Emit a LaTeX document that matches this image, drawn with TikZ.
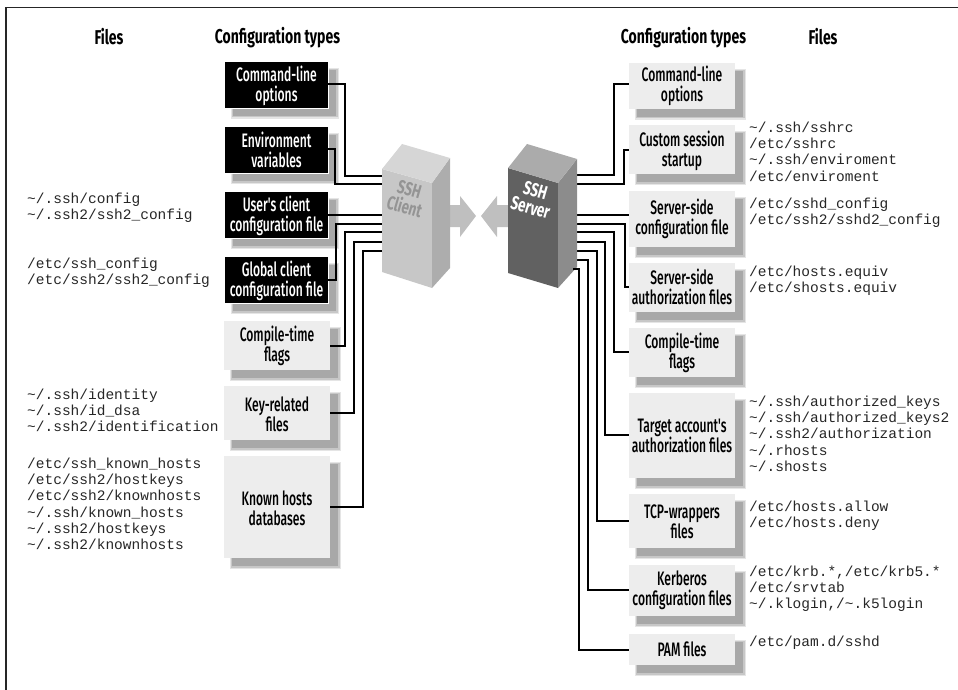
\documentclass[tikz,border=0pt]{standalone}
\usepackage{fontspec}
\setmainfont{Liberation Sans}
\newfontfamily\condfont[FakeStretch=0.62,UprightFont={* Medium}]{Fira Sans}
\newfontfamily\headfont[FakeStretch=0.7]{Fira Sans}
\setmonofont{Liberation Mono}
\definecolor{boxgray}{gray}{0.93}
\definecolor{shadowdark}{gray}{0.66}
\definecolor{shadowmid}{gray}{0.78}
\definecolor{shadowlight}{gray}{0.90}
\definecolor{arrowgray}{gray}{0.75}
\tikzset{
  x=1pt,y=-1pt,
  conn/.style={line width=2.2pt,black,line join=miter},
  lab/.style={font=\condfont\fontsize{19.5}{20}\selectfont,align=center,inner sep=0pt},
  filesnode/.style={font=\ttfamily\fontsize{14.5}{16.1}\selectfont,text=black!85,align=left,anchor=north west,inner sep=0pt},
  head/.style={font=\headfont\bfseries\fontsize{20}{20}\selectfont,inner sep=0pt},
  bk/.style={fill=black},
  gy/.style={fill=boxgray},
}
\newcommand{\shad}[4]{%
  \fill[shadowlight] (#1+6,#2+6) rectangle (#3+11,#4+11);
  \fill[shadowmid] (#1+7,#2+7) rectangle (#3+9.5,#4+9.5);
  \fill[shadowdark] (#1+8,#2+8) rectangle (#3+8,#4+8);}
\begin{document}
\begin{tikzpicture}
\useasboundingbox (0,0) rectangle (958,690);
\draw[line width=1.2pt,black!85] (6,690) -- (6,7.5) -- (958,7.5);
% shadows
\foreach \a/\b/\c/\d in {225/62/328/108,225/127/328/173,225/192/328/238,225/257/328/303,224/321/330/370,224/386/330/440,224/456/330/558,
 629/63/735/109,629/125/735/174,629/191/735/247,629/263/735/312,629/328/735/377,629/393/735/478,629/494/735/548,629/565/735/616,629/634/735/665}
 {\shad{\a}{\b}{\c}{\d}}
% white halo of the black boxes
\foreach \a/\b/\c/\d in {225/62/328/108,225/127/328/173,225/192/328/238,225/257/328/303}
 {\fill[white] (\a-1,\b-1) rectangle (\c+1,\d+1);}
% boxes
\fill[bk] (225,62) rectangle (328,108); \node[lab,white] (lc) at (276.5,85.5) {Command-line\\options};
\fill[bk] (225,127) rectangle (328,173); \node[lab,white] (le) at (276.5,150) {Environment\\variables};
\fill[bk] (225,192) rectangle (328,238); \node[lab,white] (lu) at (276.5,216) {User's client\\configuration file};
\fill[bk] (225,257) rectangle (328,303); \node[lab,white] (lg) at (276.5,281) {Global client\\configuration file};
\fill[gy] (224,321) rectangle (330,370); \node[lab] (lf) at (277,346) {Compile-time\\flags};
\fill[gy] (224,386) rectangle (330,440); \node[lab] (lk) at (277,414) {Key-related\\files};
\fill[gy] (224,456) rectangle (330,558); \node[lab] (lh) at (277,508) {Known hosts\\databases};
\fill[gy] (629,63) rectangle (735,109); \node[lab] (rc) at (682,85.5) {Command-line\\options};
\fill[gy] (629,125) rectangle (735,174); \node[lab] (rs) at (682,151) {Custom session\\startup};
\fill[gy] (629,191) rectangle (735,247); \node[lab] (rv) at (682,218.5) {Server-side\\configuration file};
\fill[gy] (629,263) rectangle (735,312); \node[lab] (ra) at (682,286.5) {Server-side\\authorization files};
\fill[gy] (629,328) rectangle (735,377); \node[lab] (rf) at (682,353) {Compile-time\\flags};
\fill[gy] (629,393) rectangle (735,478); \node[lab] (rt) at (682,436) {Target account's\\authorization files};
\fill[gy] (629,494) rectangle (735,548); \node[lab] (rw) at (682,522) {TCP-wrappers\\files};
\fill[gy] (629,565) rectangle (735,616); \node[lab] (rk) at (682,590.5) {Kerberos\\configuration files};
\fill[gy] (629,634) rectangle (735,665); \node[lab] (rp) at (682,649.5) {PAM files};
% connectors
\draw[conn] (328,84) -- (345,84) -- (345,176) -- (382,176);
\draw[conn] (328,149) -- (335,149) -- (335,184) -- (382,184);
\draw[conn] (328,215) -- (382,215);
\draw[conn] (328,280) -- (336,280) -- (336,224) -- (382,224);
\draw[conn] (330,346) -- (345,346) -- (345,232) -- (382,232);
\draw[conn] (330,413) -- (354,413) -- (354,242) -- (382,242);
\draw[conn] (330,507) -- (363,507) -- (363,251) -- (382,251);
\draw[conn] (577,175) -- (614,175) -- (614,84) -- (629,84);
\draw[conn] (577,184) -- (624,184) -- (624,150) -- (629,150);
\draw[conn] (577,215) -- (629,215);
\draw[conn] (577,224) -- (625,224) -- (625,287) -- (629,287);
\draw[conn] (577,232) -- (614,232) -- (614,352) -- (629,352);
\draw[conn] (577,242) -- (605,242) -- (605,435) -- (629,435);
\draw[conn] (577,251) -- (597,251) -- (597,521) -- (629,521);
\draw[conn] (577,260) -- (588,260) -- (588,590) -- (629,590);
% arrows
\fill[arrowgray] (448,205) -- (460,205) -- (460,196) -- (476,216) -- (460,237) -- (460,227) -- (448,227) -- cycle;
\fill[arrowgray] (510,205) -- (497,205) -- (497,196) -- (481,216) -- (497,237) -- (497,227) -- (510,227) -- cycle;
% client
\fill[black!22] (382,169) -- (432,183) -- (432,288) -- (382,272) -- cycle;
\fill[black!32] (432,183) -- (450,158) -- (450,268) -- (432,288) -- cycle;
\fill[black!16] (382,169) -- (402,144) -- (450,158) -- (432,183) -- cycle;
\node[font=\headfont\bfseries\fontsize{19}{18}\selectfont,text=black!42,align=center,inner sep=0pt,rotate=-16] (cn) at (407,198) {SSH\\Client};
% server
\fill[black!62] (508,168) -- (558,183) -- (558,288) -- (508,273) -- cycle;
\fill[black!45] (558,183) -- (577,159) -- (577,267) -- (558,288) -- cycle;
\fill[black!33] (508,168) -- (527,144) -- (577,159) -- (558,183) -- cycle;
\node[font=\headfont\bfseries\fontsize{19}{18}\selectfont,text=white,align=center,inner sep=0pt,rotate=-16] (sn) at (533,199) {SSH\\Server};
\draw[conn] (573,269) -- (579,269) -- (579,650) -- (629,650);
% headings
\node[head] (h1) at (109,37) {Files};
\node[head] (h2) at (277.5,38) {Configuration types};
\node[head] (h3) at (683.5,38) {Configuration types};
\node[head] (h4) at (823,37) {Files};
% file lists
\node[filesnode] (f1) at (27,193) {\textasciitilde/.ssh/config\\\textasciitilde/.ssh2/ssh2\_config};
\node[filesnode] (f2) at (27,258) {/etc/ssh\_config\\/etc/ssh2/ssh2\_config};
\node[filesnode] (f3) at (27,389) {\textasciitilde/.ssh/identity\\\textasciitilde/.ssh/id\_dsa\\\textasciitilde/.ssh2/identification};
\node[filesnode] (f4) at (27,458) {/etc/ssh\_known\_hosts\\/etc/ssh2/hostkeys\\/etc/ssh2/knownhosts\\\textasciitilde/.ssh/known\_hosts\\\textasciitilde/.ssh2/hostkeys\\\textasciitilde/.ssh2/knownhosts};
\node[filesnode] (f5) at (749,122) {\textasciitilde/.ssh/sshrc\\/etc/sshrc\\\textasciitilde/.ssh/enviroment\\/etc/enviroment};
\node[filesnode] (f6) at (749,198) {/etc/sshd\_config\\/etc/ssh2/sshd2\_config};
\node[filesnode] (f7) at (749,266) {/etc/hosts.equiv\\/etc/shosts.equiv};
\node[filesnode] (f8) at (749,396) {\textasciitilde/.ssh/authorized\_keys\\\textasciitilde/.ssh/authorized\_keys2\\\textasciitilde/.ssh2/authorization\\\textasciitilde/.rhosts\\\textasciitilde/.shosts};
\node[filesnode] (f9) at (749,501) {/etc/hosts.allow\\/etc/hosts.deny};
\node[filesnode] (f10) at (749,566) {/etc/krb.*,/etc/krb5.*\\/etc/srvtab\\\textasciitilde/.klogin,/\textasciitilde.k5login};
\node[filesnode] (f11) at (749,636) {/etc/pam.d/sshd};
\end{tikzpicture}
\end{document}
